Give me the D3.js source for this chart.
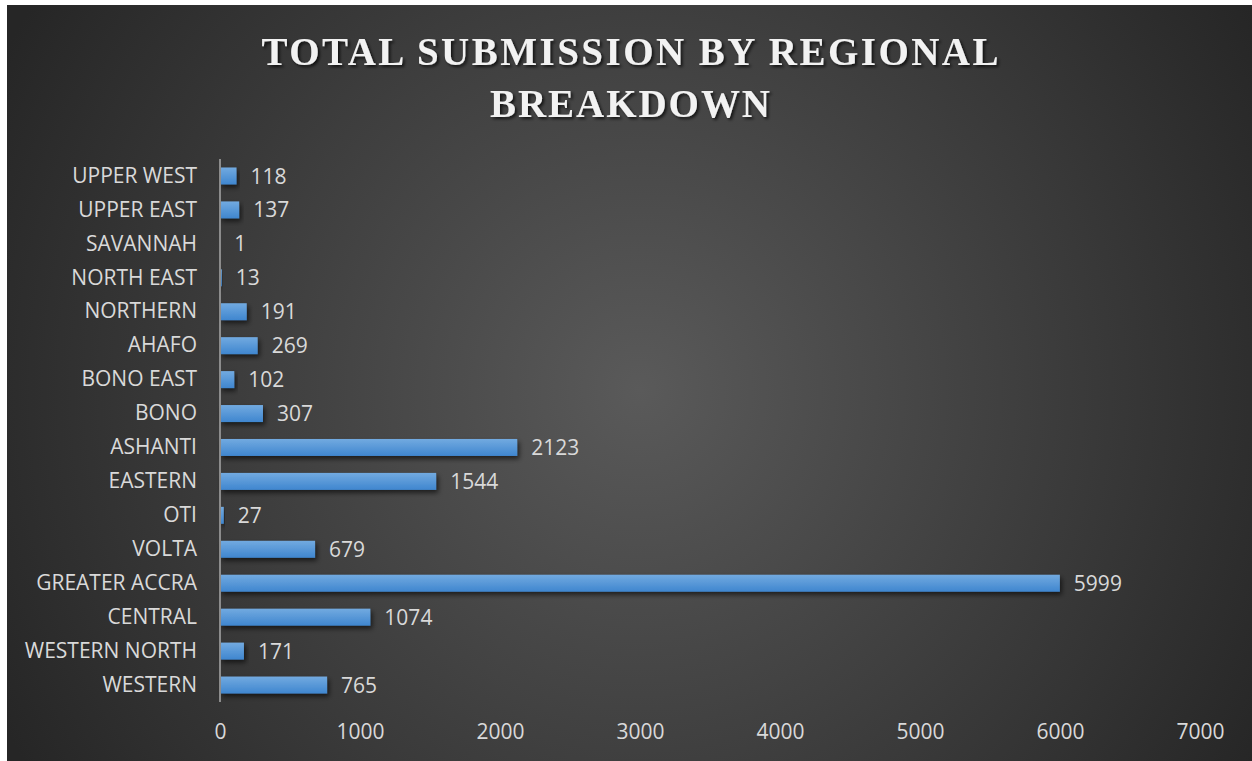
<!DOCTYPE html>
<html><head><meta charset="utf-8">
<script src="https://cdn.jsdelivr.net/npm/d3@7"></script>
<style>html,body{margin:0;padding:0;background:#fff;}svg{display:block;}</style>
</head><body>
<svg id="chart" width="1252" height="761"></svg>
<script>
const categories = ["UPPER WEST","UPPER EAST","SAVANNAH","NORTH EAST","NORTHERN","AHAFO","BONO EAST","BONO","ASHANTI","EASTERN","OTI","VOLTA","GREATER ACCRA","CENTRAL","WESTERN NORTH","WESTERN"];
const values = [118,137,1,13,191,269,102,307,2123,1544,27,679,5999,1074,171,765];
const xTicks = [0,1000,2000,3000,4000,5000,6000,7000];
const titleLines = ["TOTAL SUBMISSION BY REGIONAL","BREAKDOWN"];
const titleWidths = [737, 280];

const svg = d3.select("#chart");
const defs = svg.append("defs");
const bg = defs.append("radialGradient").attr("id","bg").attr("gradientUnits","userSpaceOnUse")
  .attr("cx",640).attr("cy",390).attr("r",720);
bg.append("stop").attr("offset","0").attr("stop-color","#5a5a5a");
bg.append("stop").attr("offset","1").attr("stop-color","#262626");
const bar = defs.append("linearGradient").attr("id","bar").attr("x1",0).attr("y1",0).attr("x2",0).attr("y2",1);
bar.append("stop").attr("offset","0").attr("stop-color","#72aae0");
bar.append("stop").attr("offset","1").attr("stop-color","#3f86cf");
const sh = defs.append("filter").attr("id","sh").attr("x","-10%").attr("y","-50%").attr("width","130%").attr("height","250%");
sh.append("feDropShadow").attr("dx",2).attr("dy",3).attr("stdDeviation",2.5).attr("flood-color","#000").attr("flood-opacity",0.6);
const tsh = defs.append("filter").attr("id","tsh").attr("x","-5%").attr("y","-30%").attr("width","110%").attr("height","160%");
tsh.append("feDropShadow").attr("dx",2).attr("dy",2).attr("stdDeviation",1.5).attr("flood-color","#000").attr("flood-opacity",0.7);

svg.append("rect").attr("x",7).attr("y",5).attr("width",1245).attr("height",756).attr("fill","url(#bg)");

const x = d3.scaleLinear().domain([0,7000]).range([220,1200]);
const y = d3.scaleBand().domain(categories).range([159,702]).paddingInner(0.5).paddingOuter(0.25);
const labelFont = "'Open Sans', sans-serif";
const labelSize = 21;

// title
svg.append("g").selectAll("text").data(titleLines).join("text")
  .attr("x",630).attr("y",(d,i)=>65+i*52)
  .attr("text-anchor","middle")
  .attr("font-family","'Liberation Serif', 'DejaVu Serif', serif")
  .attr("font-weight","bold").attr("font-size",39)
  .attr("textLength",(d,i)=>titleWidths[i]).attr("lengthAdjust","spacing")
  .attr("fill","#f2f2f2").attr("filter","url(#tsh)")
  .text(d=>d);

// bars
svg.append("g").selectAll("rect").data(values).join("rect")
  .attr("x",x(0)).attr("y",(d,i)=>y(categories[i]))
  .attr("width",d=>x(d)-x(0)).attr("height",y.bandwidth())
  .attr("fill","url(#bar)").attr("filter","url(#sh)");

// value labels
svg.append("g").selectAll("text").data(values).join("text")
  .attr("x",d=>x(d)+14).attr("y",(d,i)=>y(categories[i])+y.bandwidth()/2)
  .attr("dy","0.36em").attr("font-family",labelFont).attr("font-size",labelSize)
  .attr("fill","#d9d9d9").text(d=>d);

// y axis
const yAxis = svg.append("g").attr("transform",`translate(${x(0)},0)`)
  .call(d3.axisLeft(y).tickSize(0).tickPadding(23));
yAxis.select(".domain").attr("stroke","#8c8c8c").attr("stroke-width",2).attr("d","M0,159V702");
yAxis.selectAll("text").attr("font-family",labelFont).attr("font-size",labelSize).attr("fill","#d9d9d9");

// x axis
const xAxis = svg.append("g").attr("transform","translate(0,724)")
  .call(d3.axisBottom(x).tickValues(xTicks).tickSize(0).tickPadding(0).tickFormat(d3.format("d")));
xAxis.select(".domain").remove();
xAxis.selectAll("text").attr("font-family",labelFont).attr("font-size",labelSize).attr("fill","#d9d9d9");
</script>
</body></html>
